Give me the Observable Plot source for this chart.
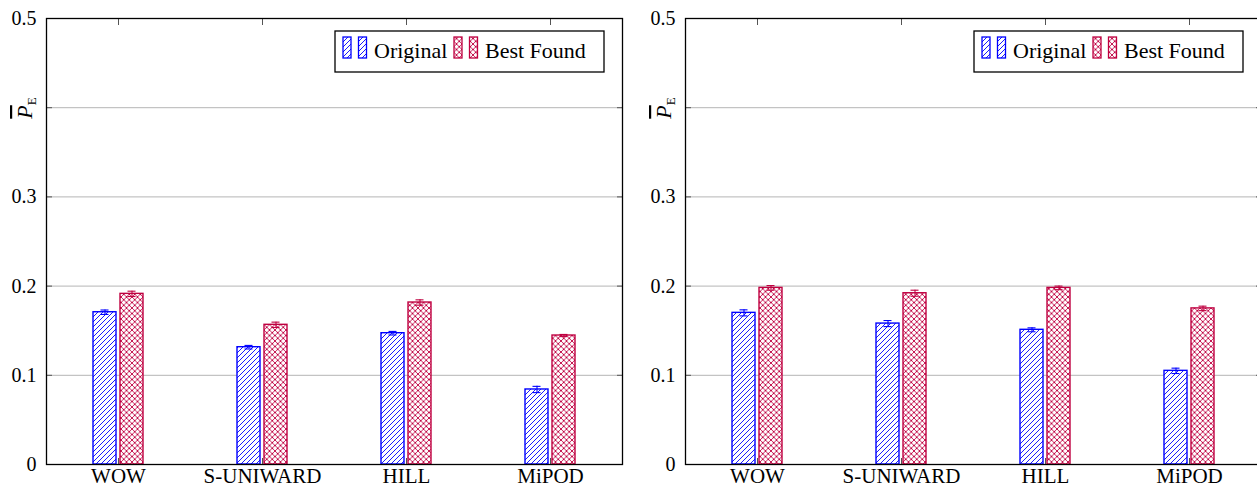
<!DOCTYPE html>
<html><head><meta charset="utf-8">
<script src="https://cdn.jsdelivr.net/npm/d3@7"></script>
<script src="https://cdn.jsdelivr.net/npm/@observablehq/plot@0.6"></script>
<style>
body{margin:0;background:#fff;width:1257px;height:487px;overflow:hidden;position:relative;}
.panel{position:absolute;top:0;width:639px;height:487px;}
svg text{font-family:"Liberation Serif",serif !important;}
</style></head><body>
<svg width="0" height="0" style="position:absolute">
<defs>
<pattern id="hatchBlue" patternUnits="userSpaceOnUse" width="5" height="5">
<rect width="5" height="5" fill="white"/>
<path d="M-1,1 L1,-1 M0,5 L5,0 M4,6 L6,4" stroke="#0000ff" stroke-width="0.9"/>
</pattern>
<pattern id="crossRed" patternUnits="userSpaceOnUse" width="5.5" height="5.5">
<rect width="5.5" height="5.5" fill="white"/>
<path d="M0,0 L5.5,5.5 M5.5,0 L0,5.5" stroke="#bf0040" stroke-width="0.9"/>
</pattern>
</defs></svg>
<div id="left" class="panel" style="left:0"></div>
<div id="right" class="panel" style="left:639px"></div>
<script>
const categories = ["WOW", "S-UNIWARD", "HILL", "MiPOD"];
const yTicks = [0, 0.1, 0.2, 0.3, 0.4, 0.5];
const yTickLabels = [0, 0.1, 0.2, 0.3, 0.5];
const seriesNames = ["Original", "Best Found"];

const leftOriginal = [0.1707, 0.1315, 0.1472, 0.0841];
const leftOriginalErr = [0.0025, 0.0020, 0.0020, 0.0035];
const leftBest = [0.1913, 0.1566, 0.1816, 0.1446];
const leftBestErr = [0.0030, 0.0030, 0.0030, 0.0012];

const rightOriginal = [0.1700, 0.1580, 0.1510, 0.1050];
const rightOriginalErr = [0.0034, 0.0034, 0.0022, 0.0030];
const rightBest = [0.1980, 0.1920, 0.1980, 0.1750];
const rightBestErr = [0.0026, 0.0034, 0.0020, 0.0025];

const BLUE = "#0000ff", RED = "#bf0040";
const SERIF = "Liberation Serif";

function ylabelMark(index, scales, values, dims) {
  const g = d3.create("svg:g");
  const t = g.append("text")
    .attr("transform", `translate(${dims.marginLeft - 14},${dims.marginTop + 90}) rotate(-90)`)
    .attr("text-anchor", "middle")
    .attr("font-family", SERIF)
    .attr("font-size", 22)
    .attr("fill", "black");
  t.append("tspan").attr("font-style", "italic").attr("text-decoration", "overline").text("P");
  t.append("tspan").attr("font-size", 13).attr("dy", 4).text("E");
  return g.node();
}

function legendMark(index, scales, values, dims) {
  const g = d3.create("svg:g");
  const w = 269, h = 41;
  const x0 = dims.width - dims.marginRight - 18 - w;
  const y0 = dims.marginTop + 13;
  g.append("rect").attr("x", x0).attr("y", y0).attr("width", w).attr("height", h)
    .attr("fill", "white").attr("stroke", "black").attr("stroke-width", 1.3);
  const items = [
    {name: seriesNames[0], fill: "url(#hatchBlue)", stroke: BLUE, rx: [8, 23.5], tx: 39},
    {name: seriesNames[1], fill: "url(#crossRed)", stroke: RED, rx: [119, 134.5], tx: 150}
  ];
  for (const it of items) {
    for (const rx of it.rx) {
      g.append("rect").attr("x", x0 + rx).attr("y", y0 + 6).attr("width", 8).attr("height", 21)
        .attr("fill", it.fill).attr("stroke", it.stroke).attr("stroke-width", 1.3);
    }
    g.append("text").attr("x", x0 + it.tx).attr("y", y0 + 27)
      .attr("text-anchor", "start")
      .attr("font-family", SERIF)
      .attr("font-size", 22).attr("fill", "black")
      .text(it.name);
  }
  return g.node();
}

function panel(orig, origErr, best, bestErr) {
  const data = categories.map((c, i) => ({cat: c, o: orig[i], oe: origErr[i], b: best[i], be: bestErr[i]}));
  return Plot.plot({
    width: 639, height: 487,
    marginLeft: 46, marginRight: 17, marginTop: 18, marginBottom: 23,
    style: {fontFamily: SERIF, fontSize: "20px", background: "white", color: "black", overflow: "visible"},
    x: {domain: categories, padding: 0, axis: null},
    y: {domain: [0, 0.5], axis: null},
    marks: [
      Plot.gridY(yTicks, {stroke: "#b5b5b5", strokeOpacity: 1, strokeWidth: 1}),
      Plot.barY(data, {x: "cat", y: "o", fill: "url(#hatchBlue)", stroke: BLUE, strokeWidth: 1.4, insetLeft: 47, insetRight: 74}),
      Plot.barY(data, {x: "cat", y: "b", fill: "url(#crossRed)", stroke: RED, strokeWidth: 1.4, insetLeft: 74, insetRight: 47}),
      Plot.ruleX(data, {x: "cat", y1: d => d.o - d.oe, y2: d => d.o + d.oe, stroke: BLUE, strokeWidth: 1.1, dx: -13.5}),
      Plot.tickY(data, {x: "cat", y: d => d.o + d.oe, stroke: BLUE, strokeWidth: 1.1, insetLeft: 54.5, insetRight: 81.5}),
      Plot.tickY(data, {x: "cat", y: d => d.o - d.oe, stroke: BLUE, strokeWidth: 1.1, insetLeft: 54.5, insetRight: 81.5}),
      Plot.ruleX(data, {x: "cat", y1: d => d.b - d.be, y2: d => d.b + d.be, stroke: RED, strokeWidth: 1.1, dx: 13.5}),
      Plot.tickY(data, {x: "cat", y: d => d.b + d.be, stroke: RED, strokeWidth: 1.1, insetLeft: 81.5, insetRight: 54.5}),
      Plot.tickY(data, {x: "cat", y: d => d.b - d.be, stroke: RED, strokeWidth: 1.1, insetLeft: 81.5, insetRight: 54.5}),
      Plot.axisY(yTicks, {anchor: "left", tickSize: 6, dx: 6, tickFormat: () => "", stroke: "#555", label: null}),
      Plot.axisY(yTicks, {anchor: "right", tickSize: 6, dx: -6, tickFormat: () => "", stroke: "#555", label: null}),
      Plot.axisY(yTickLabels, {anchor: "left", tickSize: 0, tickPadding: 10, tickFormat: d => String(d), fontFamily: SERIF, fontSize: 20, fill: "black", label: null}),
      Plot.axisX({anchor: "top", tickSize: 6, dy: 6, tickFormat: () => "", stroke: "#555", label: null}),
      Plot.axisX({anchor: "bottom", tickSize: 6, dy: -6, tickFormat: () => "", stroke: "#555", label: null}),
      Plot.axisX({anchor: "bottom", tickSize: 0, tickPadding: 4, fontFamily: SERIF, fontSize: 21, fill: "black", label: null}),
      Plot.frame({stroke: "black", strokeWidth: 1.3}),
      legendMark,
      ylabelMark
    ]
  });
}

document.getElementById("left").append(panel(leftOriginal, leftOriginalErr, leftBest, leftBestErr));
document.getElementById("right").append(panel(rightOriginal, rightOriginalErr, rightBest, rightBestErr));
</script>
</body></html>
